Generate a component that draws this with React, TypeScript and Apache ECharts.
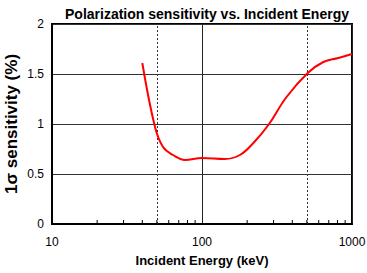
import React, { useEffect, useRef } from "react";
import * as echarts from "echarts";

const energies = [40, 48.6, 55, 64, 77, 100, 142, 179, 220, 277, 366, 507, 644, 811, 1000];
const sensitivity = [1.61, 0.97, 0.77, 0.69, 0.64, 0.66, 0.65, 0.69, 0.81, 0.99, 1.27, 1.51, 1.62, 1.66, 1.7];
const dashedEnergies = [50, 500];
const minorTicks = [20, 30, 40, 50, 60, 70, 80, 90, 200, 300, 400, 500, 600, 700, 800, 900];
const yTicks = [0, 0.5, 1, 1.5, 2];

export default function App() {
  const ref = useRef<HTMLDivElement>(null);
  useEffect(() => {
    const chart = echarts.init(ref.current!, null, { renderer: "svg" });
    const font = "'Liberation Sans', Arial, sans-serif";
    chart.setOption({
      animation: false,
      title: {
        text: "Polarization sensitivity vs. Incident Energy",
        left: 202,
        textAlign: "center",
        top: 2,
        textStyle: { fontFamily: font, fontSize: 14, fontWeight: "bold", color: "#000" },
      },
      grid: {
        left: 52, right: 15, top: 24, bottom: 49,
        outerBoundsMode: "none",
        containLabel: false,
        show: true, borderColor: "#000", borderWidth: 2, backgroundColor: "transparent",
      },
      xAxis: {
        type: "log",
        logBase: 10,
        min: 10,
        max: 1000,
        name: "Incident Energy (keV)",
        nameLocation: "middle",
        nameGap: 30,
        nameMoveOverlap: false,
        nameTextStyle: { fontFamily: font, fontSize: 13, fontWeight: "bold", color: "#000" },
        axisLine: { lineStyle: { color: "#000", width: 2 } },
        axisTick: { show: false },
        axisLabel: { fontFamily: font, fontSize: 12, color: "#000", margin: 12, formatter: (v: number) => String(Math.round(v)) },
        splitLine: { show: true, lineStyle: { color: "#222", width: 1 } },
      },
      yAxis: {
        type: "value",
        min: 0,
        max: 2,
        interval: 0.5,
        name: "1σ sensitivity (%)",
        nameLocation: "middle",
        nameGap: 32,
        nameMoveOverlap: false,
        nameTextStyle: { fontFamily: font, fontSize: 17, fontWeight: "bold", color: "#000" },
        axisLine: { show: true, lineStyle: { color: "#000", width: 2 } },
        axisTick: { show: false },
        axisLabel: {
          fontFamily: font,
          fontSize: 12,
          color: "#000",
          margin: 8,
          formatter: (v: number) => (yTicks.includes(v) ? String(v) : ""),
        },
        splitLine: { show: true, lineStyle: { color: "#333", width: 1 } },
      },
      series: [
        {
          type: "line",
          data: energies.map((e, i) => [e, sensitivity[i]]),
          smooth: 0.4,
          showSymbol: false,
          lineStyle: { color: "#ff0000", width: 2 },
          z: 5,
          markLine: {
            silent: true,
            symbol: "none",
            label: { show: false },
            lineStyle: { color: "#333", type: [2, 2], width: 1 },
            data: dashedEnergies.map((e) => ({ xAxis: e })),
          },
        },
        {
          type: "custom",
          data: minorTicks.map((t) => [t, 0]),
          renderItem: (params: any, api: any) => {
            const p = api.coord([api.value(0), 0]);
            return {
              type: "line",
              shape: { x1: p[0], y1: p[1], x2: p[0], y2: p[1] - 4 },
              style: { stroke: "#000", lineWidth: 1 },
            };
          },
          z: 6,
        },
      ],
    });
    return () => chart.dispose();
  }, []);
  return <div ref={ref} style={{ width: 367, height: 273, position: "absolute", left: 0, top: 0 }} />;
}
